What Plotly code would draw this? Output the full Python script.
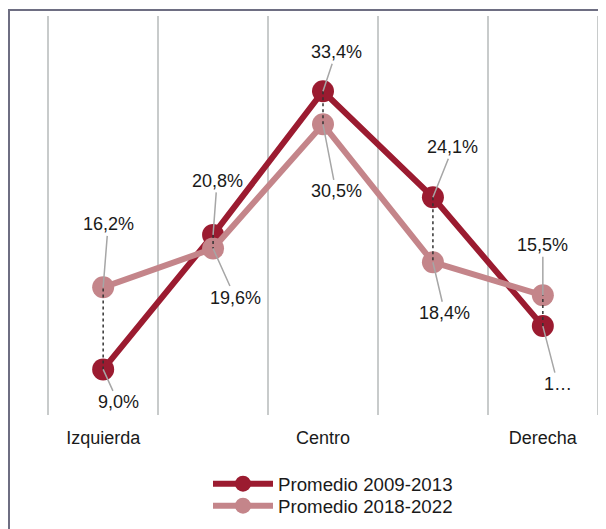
import plotly.graph_objects as go

categories = ["Izquierda", "", "Centro", "", "Derecha"]
series_names = ["Promedio 2009-2013", "Promedio 2018-2022"]
s1_values = [9.0, 20.8, 33.4, 24.1, 12.8]
s2_values = [16.2, 19.6, 30.5, 18.4, 15.5]
s1_labels = ["9,0%", "20,8%", "33,4%", "24,1%", "1…"]
s2_labels = ["16,2%", "19,6%", "30,5%", "18,4%", "15,5%"]

C1 = "#9b1b30"
C2 = "#c4858a"
FONT = "Liberation Sans, Arial, sans-serif"

xs = list(range(len(categories)))
fig = go.Figure()
fig.add_trace(go.Scatter(x=xs, y=s1_values, mode="lines+markers", name=series_names[0],
                         legend="legend",
                         line=dict(color=C1, width=6), marker=dict(size=22, color=C1)))
fig.add_trace(go.Scatter(x=xs, y=s2_values, mode="lines+markers", name=series_names[1],
                         legend="legend2",
                         line=dict(color=C2, width=6), marker=dict(size=22, color=C2)))

dx, dy = [], []
for i in xs:
    dx += [i, i, None]
    dy += [s1_values[i], s2_values[i], None]
fig.add_trace(go.Scatter(x=dx, y=dy, mode="lines", showlegend=False, hoverinfo="skip",
                         line=dict(color="#333333", width=1.5, dash="dot")))

off1 = [(15, 33), (4, -54), (13, -39), (20, -50), (15, 58)]
off2 = [(5, -63), (22, 49), (13, 67), (12, 51), (0, -50)]
for vals, labs, offs in [(s1_values, s1_labels, off1), (s2_values, s2_labels, off2)]:
    for i in xs:
        fig.add_annotation(x=i, y=vals[i], text=labs[i], showarrow=True, arrowhead=0,
                           arrowwidth=1.5, arrowcolor="#a6a6a6", ax=offs[i][0], ay=offs[i][1],
                           standoff=0, startstandoff=0,
                           font=dict(family=FONT, size=18, color="#1a1a1a"))

W, H = 598, 521
L, R, T, B = 38, 6, 8, 114
pw, ph = W - L - R, H - T - B
# outer frame (partly cropped in the reference)
fig.add_shape(type="rect", xref="paper", yref="paper",
              x0=(1 - L) / pw, x1=1.3, y0=-0.6, y1=1 + 6 / ph,
              line=dict(color="#6e6e82", width=2), fillcolor="rgba(0,0,0,0)", layer="above")

leg_common = dict(orientation="v", xref="container", yref="container", xanchor="center",
                  yanchor="middle", font=dict(size=18.7, family=FONT, color="#1a1a1a"),
                  itemwidth=60, bgcolor="rgba(0,0,0,0)")
fig.update_layout(
    width=W, height=H,
    margin=dict(l=L, r=R, t=T, b=B, autoexpand=False),
    paper_bgcolor="white", plot_bgcolor="white",
    font=dict(family=FONT, size=18, color="#1a1a1a"),
    showlegend=True,
    legend=dict(x=325 / W, y=1 - 476 / H, **leg_common),
    legend2=dict(x=325 / W, y=1 - 498 / H, **leg_common),
    xaxis=dict(range=[-0.52, 4.52], tickmode="array", tickvals=xs, ticktext=categories,
               showgrid=False, zeroline=False, showline=False, ticks="",
               ticklabelstandoff=10,
               minor=dict(showgrid=True, tick0=-0.5, dtick=1, gridcolor="#c8cbcb", gridwidth=2, ticks="")),
    yaxis=dict(range=[5, 40], visible=False, showgrid=False, zeroline=False),
)

fig.write_html("out.html")
